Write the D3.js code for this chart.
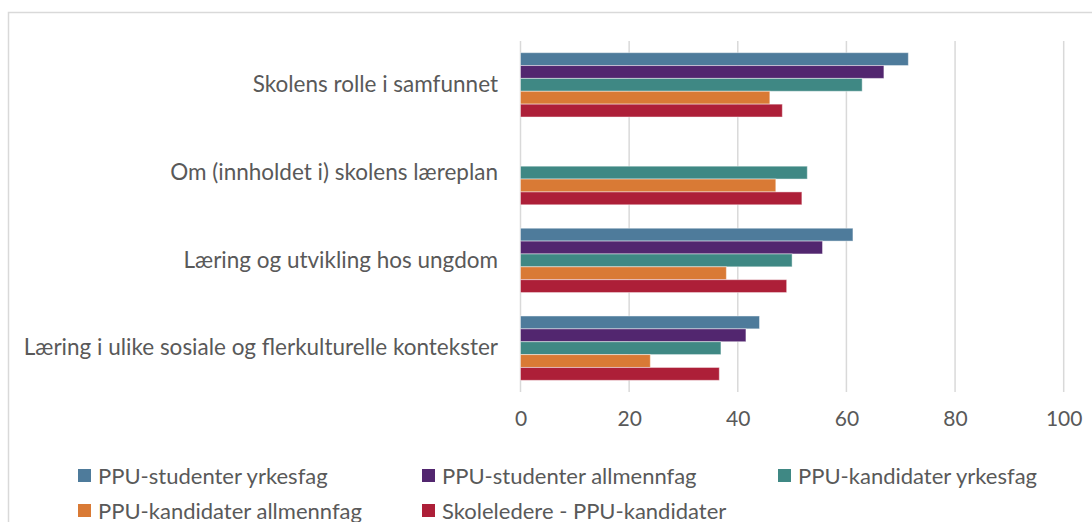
<!DOCTYPE html>
<html>
<head>
<meta charset="utf-8">
<script src="https://cdn.jsdelivr.net/npm/d3@7"></script>
<style>
  body { margin: 0; background: #fff; }
  text { font-family: Lato, "Open Sans", sans-serif; fill: #595959; }
</style>
</head>
<body>
<svg id="chart" width="1092" height="522"></svg>
<script>
// data
var categories = [
  'Skolens rolle i samfunnet',
  'Om (innholdet i) skolens læreplan',
  'Læring og utvikling hos ungdom',
  'Læring i ulike sosiale og flerkulturelle kontekster'
];
var seriesNames = [
  'PPU-studenter yrkesfag',
  'PPU-studenter allmennfag',
  'PPU-kandidater yrkesfag',
  'PPU-kandidater allmennfag',
  'Skoleledere - PPU-kandidater'
];
var studYrkes = [71.4, null, 61.2, 44.0];
var studAllmenn = [66.9, null, 55.6, 41.5];
var kandYrkes = [62.9, 52.8, 50.0, 36.9];
var kandAllmenn = [45.9, 47.0, 37.9, 23.9];
var skoleledere = [48.2, 51.8, 49.0, 36.6];
var xTicks = [0, 20, 40, 60, 80, 100];
var colors = ['#4e7b9b', '#52266f', '#3f8884', '#d97a35', '#ad1f38'];

var seriesValues = [studYrkes, studAllmenn, kandYrkes, kandAllmenn, skoleledere];

var svg = d3.select('#chart');

// outer chart border (runs off the right and bottom edge)
svg.append('rect')
  .attr('x', 8.5).attr('y', 12.5)
  .attr('width', 1100).attr('height', 520)
  .attr('fill', 'none')
  .attr('stroke', '#d9d9d9')
  .attr('stroke-width', 1.5);

var x = d3.scaleLinear().domain([0, 100]).range([520.5, 1063.7]);
var y = d3.scaleBand()
  .domain(categories)
  .range([41, 392])
  .paddingInner(0.267)
  .paddingOuter(0.133);
var yInner = d3.scaleBand()
  .domain(seriesNames)
  .range([0, y.bandwidth()]);

// gridlines
svg.append('g')
  .selectAll('line')
  .data(xTicks)
  .enter()
  .append('line')
  .attr('x1', d => x(d)).attr('x2', d => x(d))
  .attr('y1', 41).attr('y2', 392)
  .attr('stroke', '#d9d9d9')
  .attr('stroke-width', 1.5);

// bars
var rows = [];
categories.forEach(function(c, i) {
  seriesNames.forEach(function(s, j) {
    if (seriesValues[j][i] != null) rows.push({ cat: c, series: s, j: j, value: seriesValues[j][i] });
  });
});

svg.append('g')
  .selectAll('rect')
  .data(rows)
  .enter()
  .append('rect')
  .attr('x', x(0))
  .attr('y', d => y(d.cat) + yInner(d.series))
  .attr('width', d => x(d.value) - x(0))
  .attr('height', yInner.bandwidth())
  .attr('fill', d => colors[d.j])
  .attr('stroke', 'rgba(255,255,255,0.45)')
  .attr('stroke-width', 1);

// x axis labels
var xAxis = svg.append('g')
  .attr('transform', 'translate(0,411)')
  .call(d3.axisBottom(x).tickValues(xTicks).tickSize(0).tickPadding(0));
xAxis.select('.domain').remove();
xAxis.selectAll('text')
  .attr('dy', '0.71em')
  .style('font-size', '21px')
  .attr('font-family', null);

// category labels
var yAxis = svg.append('g')
  .attr('transform', 'translate(498,0)')
  .call(d3.axisLeft(y).tickSize(0).tickPadding(0));
yAxis.select('.domain').remove();
yAxis.selectAll('text')
  .style('font-size', '22.5px')
  .attr('font-family', null);

// legend
var legendPos = [[78, 476], [422, 476], [778, 476], [78, 511], [422, 511]];
var legend = svg.append('g')
  .selectAll('g')
  .data(seriesNames)
  .enter()
  .append('g')
  .attr('transform', (d, i) => 'translate(' + legendPos[i][0] + ',' + legendPos[i][1] + ')');
legend.append('rect')
  .attr('x', 0).attr('y', -7)
  .attr('width', 13).attr('height', 13)
  .attr('fill', (d, i) => colors[i]);
legend.append('text')
  .attr('x', 20)
  .attr('dy', '0.35em')
  .style('font-size', '22px')
  .text(d => d);
</script>
</body>
</html>
